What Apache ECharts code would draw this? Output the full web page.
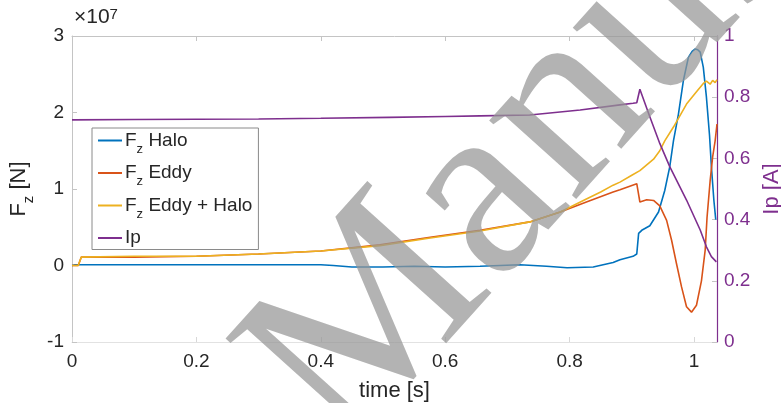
<!DOCTYPE html>
<html>
<head>
<meta charset="utf-8">
<script src="https://cdn.jsdelivr.net/npm/echarts@6/dist/echarts.min.js"></script>
<style>
  html, body { margin: 0; padding: 0; background: #fff; }
  #chart { width: 781px; height: 403px; }
</style>
</head>
<body>
<div id="chart"></div>
<script>
// Vertical force components (units of 1e7 N) and plasma current vs time.
const haloT = [0, 0.005, 0.1, 0.2, 0.3, 0.4, 0.42, 0.45, 0.5, 0.55, 0.6, 0.656, 0.72, 0.763, 0.796, 0.838, 0.87, 0.881, 0.902, 0.908, 0.911, 0.916, 0.929, 0.943, 0.953, 0.961, 0.967, 0.975, 0.983, 0.991, 0.997, 1.002, 1.006, 1.01, 1.015, 1.02, 1.025, 1.028, 1.032, 1.035];
const haloV = [0, 0.01, 0.01, 0.01, 0.01, 0.01, 0.0, -0.02, -0.02, -0.01, -0.02, -0.01, 0.01, -0.01, -0.03, -0.02, 0.04, 0.075, 0.12, 0.15, 0.42, 0.46, 0.52, 0.70, 0.98, 1.29, 1.63, 1.98, 2.42, 2.72, 2.80, 2.83, 2.82, 2.79, 2.59, 2.20, 1.70, 1.29, 0.85, 0.6];

const eddyT = [0, 0.01, 0.015, 0.1, 0.2, 0.3, 0.4, 0.495, 0.576, 0.656, 0.736, 0.785, 0.827, 0.87, 0.881, 0.908, 0.913, 0.924, 0.935, 0.945, 0.956, 0.964, 0.972, 0.98, 0.988, 0.996, 1.004, 1.012, 1.018, 1.021, 1.026, 1.03, 1.034, 1.037];
const eddyV = [0, 0, 0.11, 0.11, 0.12, 0.15, 0.19, 0.27, 0.37, 0.46, 0.57, 0.70, 0.83, 0.96, 0.99, 1.07, 0.83, 0.86, 0.85, 0.78, 0.59, 0.33, 0.02, -0.28, -0.54, -0.61, -0.52, -0.20, 0.20, 0.63, 1.11, 1.42, 1.63, 1.85];

const totalT = [0, 0.01, 0.015, 0.1, 0.2, 0.3, 0.4, 0.495, 0.576, 0.656, 0.736, 0.785, 0.827, 0.85, 0.87, 0.881, 0.9, 0.913, 0.935, 0.945, 0.953, 0.967, 0.988, 1.004, 1.015, 1.02, 1.026, 1.03, 1.034, 1.037];
const totalV = [0, 0, 0.11, 0.12, 0.12, 0.15, 0.19, 0.26, 0.36, 0.45, 0.57, 0.70, 0.87, 0.96, 1.05, 1.09, 1.18, 1.24, 1.39, 1.50, 1.63, 1.81, 2.11, 2.27, 2.38, 2.41, 2.37, 2.42, 2.39, 2.43];

const ipT = [0, 0.1, 0.2, 0.3, 0.4, 0.51, 0.6, 0.656, 0.736, 0.817, 0.881, 0.902, 0.908, 0.913, 0.929, 0.945, 0.961, 0.988, 1.01, 1.02, 1.028, 1.036];
const ipV = [0.726, 0.727, 0.728, 0.729, 0.731, 0.734, 0.737, 0.739, 0.742, 0.758, 0.775, 0.78, 0.782, 0.826, 0.736, 0.649, 0.573, 0.464, 0.366, 0.311, 0.279, 0.262];

const seriesNames = ['Halo', 'Eddy', 'Eddy + Halo', 'Ip'];
const leftTicks = [-1, 0, 1, 2, 3];
const rightTicks = [0, 0.2, 0.4, 0.6, 0.8, 1];

const FONT = '"Liberation Sans", Arial, Helvetica, sans-serif';
const INK = '#262626';
const PURPLE = '#7E2F8E';
const BOX = '#c4c4c4';

const zip = (t, v) => t.map((x, i) => [x, v[i]]);

const chart = echarts.init(document.getElementById('chart'), null, { renderer: 'canvas' });

const lineSeries = (name, t, v, color, axis) => ({
  name: name,
  type: 'line',
  yAxisIndex: axis,
  data: zip(t, v),
  showSymbol: false,
  symbol: 'none',
  lineStyle: { color: color, width: 1.6 },
  itemStyle: { color: color },
  animation: false
});

const legendLabels = {
  'Halo': '{f|F}{s|z}{t| Halo}',
  'Eddy': '{f|F}{s|z}{t| Eddy}',
  'Eddy + Halo': '{f|F}{s|z}{t| Eddy + Halo}',
  'Ip': '{t|Ip}'
};

chart.setOption({
  animation: false,
  backgroundColor: '#ffffff',
  textStyle: { fontFamily: FONT },
  grid: { left: 72, right: 64, top: 36, bottom: 61, outerBoundsMode: 'none', containLabel: false },
  legend: {
    data: seriesNames,
    orient: 'vertical',
    left: 92,
    top: 128,
    padding: [3, 6, 2, 6],
    itemWidth: 24,
    itemHeight: 2,
    itemGap: 8,
    icon: 'rect',
    backgroundColor: '#fff',
    borderColor: '#8a8a8a',
    borderWidth: 1,
    formatter: name => legendLabels[name],
    textStyle: {
      color: INK,
      padding: [0, 0, 0, -2],
      rich: {
        f: { fontSize: 19, lineHeight: 30, fontFamily: FONT, color: INK },
        s: { fontSize: 13, lineHeight: 13, verticalAlign: 'bottom', fontFamily: FONT, color: INK },
        t: { fontSize: 19, lineHeight: 30, fontFamily: FONT, color: INK }
      }
    }
  },
  xAxis: [{
    type: 'value',
    min: 0,
    max: 1.037,
    interval: 0.2,
    name: 'time [s]',
    nameLocation: 'middle',
    nameGap: 38,
    nameTextStyle: { fontSize: 22, color: INK, fontFamily: FONT },
    axisLine: { show: true, onZero: false, lineStyle: { color: '#e2e2e2', width: 1 } },
    axisTick: { show: true, inside: true, length: 5, lineStyle: { color: '#d8d8d8' } },
    axisLabel: { fontSize: 19, color: INK, margin: 10, showMaxLabel: false, fontFamily: FONT },
    splitLine: { show: false }
  }, {
    type: 'value',
    position: 'top',
    min: 0,
    max: 1.037,
    interval: 0.2,
    axisLine: { show: true, onZero: false, lineStyle: { color: BOX, width: 1 } },
    axisTick: { show: true, inside: true, length: 5, lineStyle: { color: BOX } },
    axisLabel: { show: false },
    splitLine: { show: false }
  }],
  yAxis: [{
    type: 'value',
    position: 'left',
    min: leftTicks[0],
    max: leftTicks[leftTicks.length - 1],
    interval: 1,
    name: '{f|F}{s|z}{t| [N]}',
    nameLocation: 'middle',
    nameRotate: 90,
    nameGap: 36,
    nameTextStyle: {
      rich: {
        f: { fontSize: 22, lineHeight: 34, fontFamily: FONT, color: INK },
        s: { fontSize: 15, lineHeight: 15, verticalAlign: 'bottom', fontFamily: FONT, color: INK },
        t: { fontSize: 22, lineHeight: 34, fontFamily: FONT, color: INK }
      }
    },
    axisLine: { show: true, onZero: false, lineStyle: { color: BOX, width: 1 } },
    axisTick: { show: true, inside: true, length: 5, lineStyle: { color: BOX } },
    axisLabel: { fontSize: 19, color: INK, margin: 8, fontFamily: FONT },
    splitLine: { show: false }
  }, {
    type: 'value',
    position: 'right',
    min: rightTicks[0],
    max: rightTicks[rightTicks.length - 1],
    interval: 0.2,
    name: 'Ip [A]',
    nameLocation: 'middle',
    nameRotate: 90,
    nameGap: 44,
    nameTextStyle: { fontSize: 22, color: PURPLE, fontFamily: FONT },
    axisLine: { show: true, onZero: false, lineStyle: { color: PURPLE, width: 1.2 } },
    axisTick: { show: true, inside: true, length: 5, lineStyle: { color: BOX } },
    axisLabel: { fontSize: 19, color: PURPLE, margin: 7, fontFamily: FONT },
    splitLine: { show: false }
  }],
  series: [
    lineSeries('Halo', haloT, haloV, '#0072BD', 0),
    lineSeries('Eddy', eddyT, eddyV, '#D95319', 0),
    lineSeries('Eddy + Halo', totalT, totalV, '#EDB120', 0),
    lineSeries('Ip', ipT, ipV, PURPLE, 1)
  ],
  graphic: [{
    type: 'text',
    left: 74,
    top: 7,
    z: 50,
    style: {
      text: '×10{sup|7}',
      fill: INK,
      font: '21px ' + FONT,
      rich: {
        sup: { fontSize: 15, verticalAlign: 'top', fill: INK, fontFamily: FONT }
      }
    }
  }, {
    type: 'text',
    x: 295,
    y: 411,
    rotation: 48 * Math.PI / 180,
    z: 100,
    silent: true,
    style: {
      text: 'Manuscript',
      font: '255px "Liberation Serif", "Times New Roman", serif',
      fill: 'rgb(150,150,150)',
      opacity: 0.72,
      textAlign: 'left',
      textVerticalAlign: 'middle'
    }
  }]
});
</script>
</body>
</html>
